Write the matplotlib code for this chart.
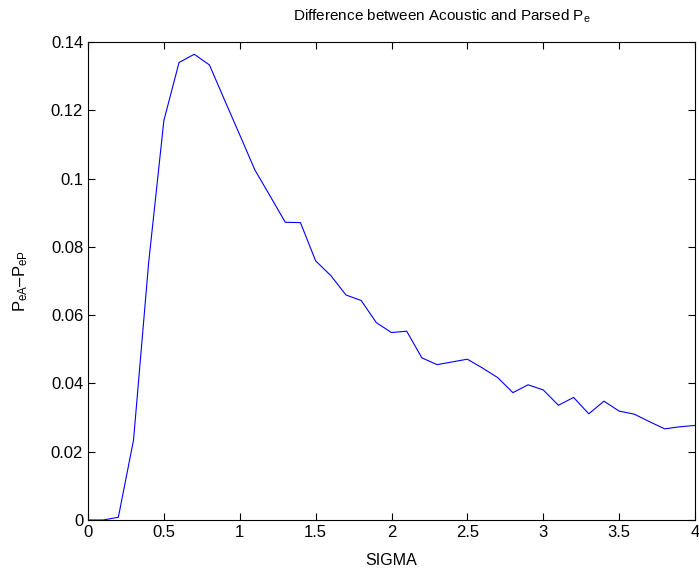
import matplotlib
matplotlib.use("Agg")
from matplotlib import pyplot as plt

plt.rcParams['font.family'] = ['Liberation Sans', 'DejaVu Sans']
plt.rcParams['mathtext.fontset'] = 'custom'
plt.rcParams['mathtext.rm'] = 'Liberation Sans'
plt.rcParams['mathtext.it'] = 'Liberation Sans'

# sigma from 0 to 4 in steps of 0.1
sigma = [i / 10 for i in range(41)]
diff = [0.0, 0.0, 0.0008, 0.0234, 0.0755, 0.1170, 0.1340, 0.1364, 0.1333, 0.1230,
        0.1128, 0.1025, 0.0949, 0.0872, 0.0871, 0.0759, 0.0716, 0.0659, 0.0643, 0.0578,
        0.0549, 0.0553, 0.0475, 0.0455, 0.0463, 0.0471, 0.0445, 0.0417, 0.0373, 0.0396,
        0.0381, 0.0336, 0.0359, 0.0311, 0.0348, 0.0319, 0.0310, 0.0288, 0.0267, 0.0273,
        0.0277]

xticks = [0, 0.5, 1, 1.5, 2, 2.5, 3, 3.5, 4]
xticklabels = ['0', '0.5', '1', '1.5', '2', '2.5', '3', '3.5', '4']
yticks = [0, 0.02, 0.04, 0.06, 0.08, 0.10, 0.12, 0.14]
yticklabels = ['0', '0.02', '0.04', '0.06', '0.08', '0.1', '0.12', '0.14']

fig = plt.figure(figsize=(6.99, 5.69), dpi=100)
ax = fig.add_axes([88/699, 1 - 520/569, (695 - 88)/699, (520 - 42)/569])

ax.plot(sigma, diff, color='#0000ff', linewidth=0.8)

ax.set_xlim(0, 4)
ax.set_ylim(0, 0.14)
ax.set_xticks(xticks)
ax.set_xticklabels(xticklabels)
ax.set_yticks(yticks)
ax.set_yticklabels(yticklabels)
ax.tick_params(direction='in', top=True, right=True, length=5, width=0.8,
               labelsize=12, pad=3.5)
for s in ax.spines.values():
    s.set_linewidth(0.8)

ax.set_xlabel('SIGMA', fontsize=11.5, labelpad=9.5)
ax.set_ylabel(r'$\mathregular{P_{eA}–P_{eP}}$', fontsize=12, labelpad=15)
ax.text(0.583, 1.035, r'Difference between Acoustic and Parsed $\mathregular{P_e}$',
        transform=ax.transAxes, ha='center', va='bottom', fontsize=11)

fig.savefig('out.png', dpi=100)
